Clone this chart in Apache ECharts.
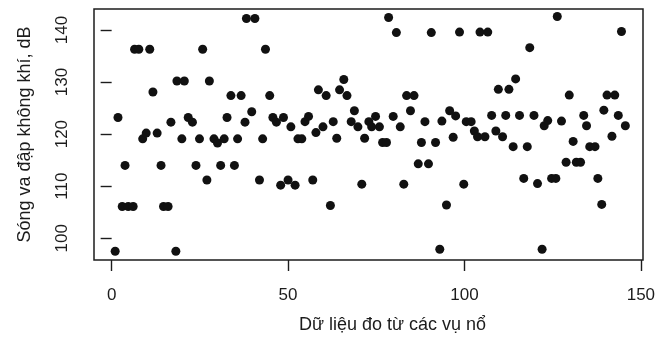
<!DOCTYPE html>
<html>
<head>
<meta charset="utf-8">
<script src="https://cdn.jsdelivr.net/npm/echarts@6/dist/echarts.min.js"></script>
<style>
html, body { margin: 0; background: #fff; }
#chart { width: 668px; height: 342px; }
</style>
</head>
<body>
<div id="chart"></div>
<script>
// số thứ tự phép đo
const measureX = [
  1.0, 1.8, 3.0, 3.8, 4.7, 6.1, 6.5, 7.7, 8.8, 9.8,
  10.8, 11.7, 12.9, 14.0, 14.7, 16.0, 16.8, 18.2, 18.5, 19.9,
  20.6, 21.7, 22.9, 23.9, 24.9, 25.8, 27.0, 27.7, 29.0, 30.0,
  30.9, 31.9, 32.7, 33.8, 34.8, 35.7, 36.7, 37.8, 38.2, 39.7,
  40.6, 41.9, 42.8, 43.6, 44.8, 45.7, 46.7, 47.9, 48.7, 50.0,
  50.8, 52.0, 52.8, 53.9, 54.8, 55.8, 57.0, 57.9, 58.6, 59.9,
  60.8, 62.0, 62.8, 63.8, 64.6, 65.8, 66.7, 67.9, 68.8, 69.8,
  70.9, 71.7, 72.9, 73.7, 74.8, 75.9, 76.8, 77.9, 78.5, 79.8,
  80.7, 81.8, 82.8, 83.6, 84.7, 85.7, 86.9, 87.8, 88.8, 89.8,
  90.6, 91.8, 93.0, 93.6, 94.9, 95.8, 96.8, 97.5, 98.6, 99.8,
  100.5, 101.9, 102.8, 103.7, 104.4, 105.8, 106.6, 107.7, 108.9, 109.6,
  110.8, 111.7, 112.6, 113.8, 114.5, 115.6, 116.8, 117.8, 118.5, 119.7,
  120.7, 122.0, 122.6, 123.6, 124.7, 125.9, 126.3, 127.5, 128.8, 129.7,
  130.8, 131.7, 132.9, 133.8, 134.6, 135.5, 137.0, 137.8, 138.9, 139.5,
  140.4, 141.8, 142.6, 143.6, 144.5, 145.6
];
// mức sóng va đập, dB
const levelDb = [
  97.5, 123.2, 106.1, 114.0, 106.1, 106.1, 136.3, 136.3, 119.1, 120.2,
  136.3, 128.1, 120.2, 114.0, 106.1, 106.1, 122.3, 97.5, 130.2, 119.1,
  130.2, 123.2, 122.3, 114.0, 119.1, 136.3, 111.2, 130.2, 119.1, 118.3,
  114.0, 119.1, 123.2, 127.4, 114.0, 119.1, 127.4, 122.3, 142.2, 124.3,
  142.2, 111.2, 119.1, 136.3, 127.4, 123.2, 122.3, 110.2, 123.2, 111.2,
  121.4, 110.2, 119.1, 119.1, 122.4, 123.4, 111.2, 120.3, 128.5, 121.4,
  127.4, 106.3, 122.4, 119.2, 128.5, 130.5, 127.4, 122.4, 124.5, 121.4,
  110.4, 119.2, 122.4, 121.4, 123.4, 121.4, 118.4, 118.4, 142.4, 123.4,
  139.5, 121.4, 110.4, 127.4, 124.5, 127.4, 114.3, 118.4, 122.4, 114.3,
  139.5, 118.4, 97.9, 122.5, 106.4, 124.5, 119.4, 123.5, 139.6, 110.4,
  122.4, 122.4, 120.6, 119.5, 139.6, 119.5, 139.6, 123.6, 120.6, 128.6,
  119.5, 123.6, 128.6, 117.6, 130.6, 123.6, 111.5, 117.6, 136.6, 123.6,
  110.5, 97.9, 121.6, 122.6, 111.5, 111.5, 142.6, 122.5, 114.6, 127.5,
  118.6, 114.6, 114.6, 123.6, 121.6, 117.6, 117.6, 111.5, 106.5, 124.6,
  127.5, 119.6, 127.5, 123.6, 139.7, 121.6
];
const xTicks = [0, 50, 100, 150];
const yTicks = [100, 110, 120, 130, 140];

const ink = '#1c1c1c';
const font = 'Liberation Sans';

const chart = echarts.init(document.getElementById('chart'));

chart.setOption({
  backgroundColor: '#fff',
  animation: false,
  grid: {
    left: 94, right: 25, top: 9, bottom: 82,
    show: true, borderColor: ink, borderWidth: 1.5, backgroundColor: 'transparent'
  },
  xAxis: {
    type: 'value', min: -5, max: 150.6,
    name: 'Dữ liệu đo từ các vụ nổ',
    nameLocation: 'middle', nameGap: 56,
    nameTextStyle: { fontFamily: font, fontSize: 18, color: ink, padding: [0, 0, 0, 48] },
    axisLine: { show: false },
    splitLine: { show: false },
    axisTick: { customValues: xTicks, length: 11, lineStyle: { color: ink, width: 1.4 } },
    axisLabel: { customValues: xTicks, margin: 27, fontFamily: font, fontSize: 17, color: ink }
  },
  yAxis: {
    type: 'value', min: 95.83, max: 144.03,
    name: 'Sóng va đập không khí, dB',
    nameLocation: 'middle', nameGap: 60,
    nameTextStyle: { fontFamily: font, fontSize: 18, color: ink },
    axisLine: { show: false },
    splitLine: { show: false },
    axisTick: { customValues: yTicks, length: 11, lineStyle: { color: ink, width: 1.4 } },
    axisLabel: { customValues: yTicks, rotate: 90, margin: 23, fontFamily: font, fontSize: 17, color: ink }
  },
  series: [{
    type: 'scatter',
    symbol: 'circle',
    symbolSize: 9,
    itemStyle: { color: '#111', opacity: 1 },
    data: measureX.map((x, i) => [x, levelDb[i]])
  }]
});
</script>
</body>
</html>
